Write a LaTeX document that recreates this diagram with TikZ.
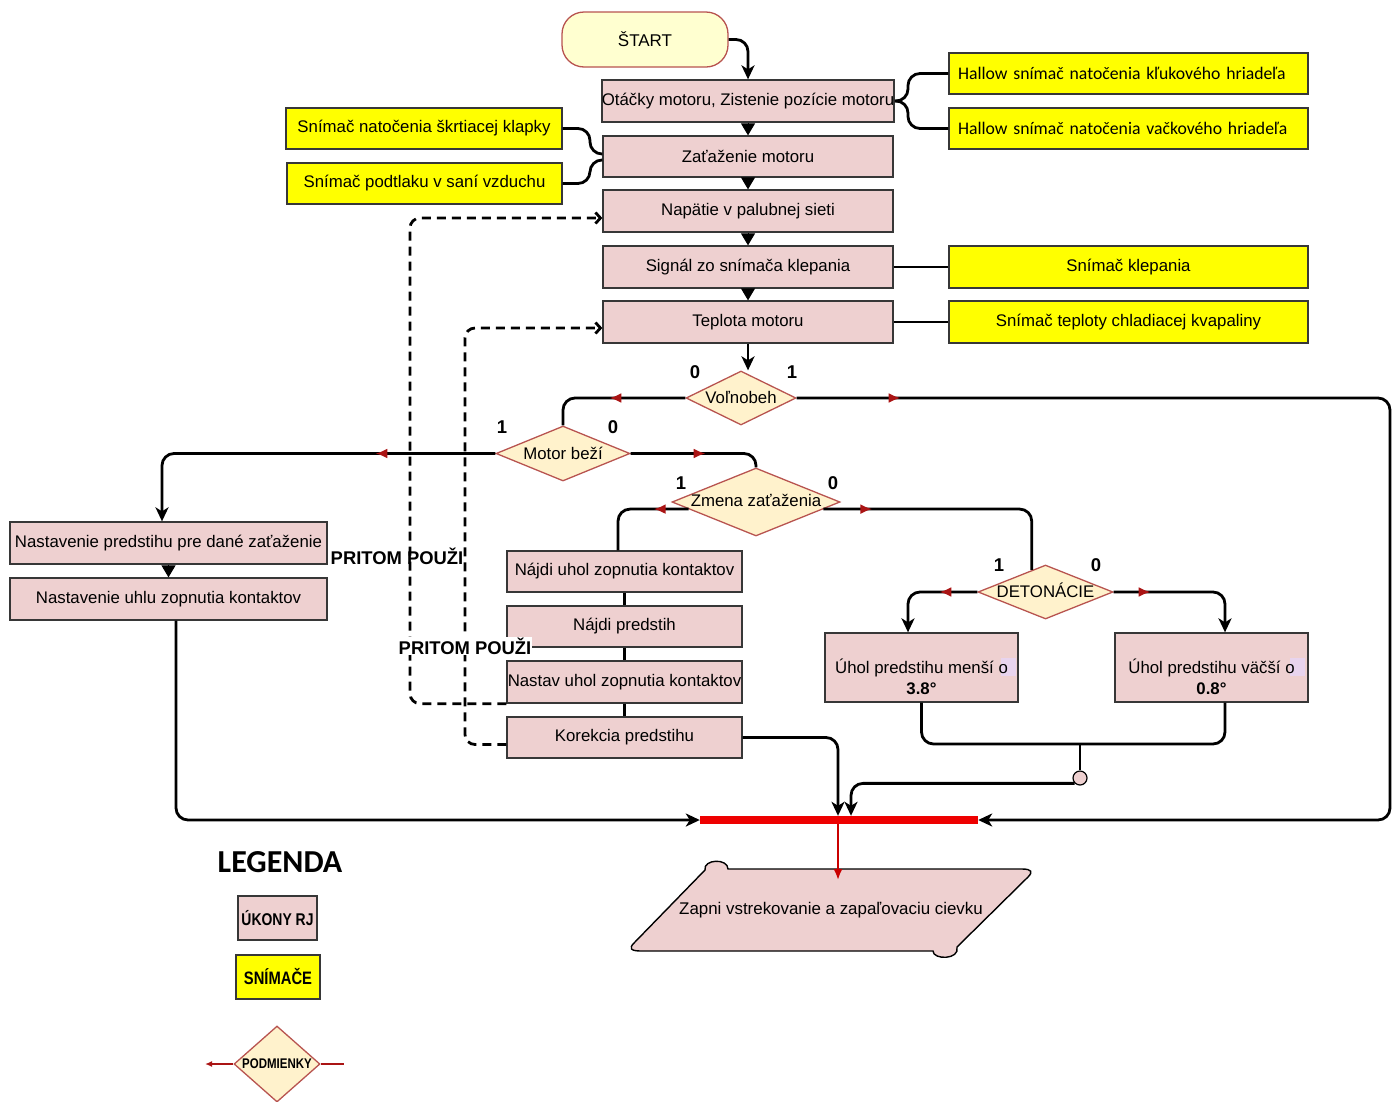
\documentclass[tikz,border=0pt]{standalone}
\usepackage{fontspec}
\setmainfont{Liberation Sans}
\newfontfamily\calfont{Carlito}
\newfontfamily\narrowfont[FakeStretch=0.82]{Liberation Sans}
\usetikzlibrary{arrows.meta,shapes.geometric,decorations.markings}
\newcommand\fsz[2]{\fontsize{#1pt}{#2pt}\selectfont}
\definecolor{pinkc}{RGB}{238,208,208}
\definecolor{bordc}{RGB}{55,55,55}
\definecolor{yelc}{RGB}{255,255,0}
\definecolor{diafill}{RGB}{255,242,204}
\definecolor{diabord}{RGB}{184,84,80}
\definecolor{startfill}{RGB}{255,255,208}
\definecolor{darkredc}{RGB}{170,20,20}
\definecolor{barred}{RGB}{238,0,0}
\definecolor{purc}{RGB}{232,212,238}
\begin{document}
\begin{tikzpicture}[x=1pt,y=-1pt,
  pbox/.style={draw=bordc, line width=1.3pt, fill=pinkc, inner sep=0pt, font=\fsz{16.8}{20}},
  ybox/.style={draw=bordc, line width=1.3pt, fill=yelc, inner sep=0pt, font=\fsz{16.8}{20}},
  dia/.style={diamond, draw=diabord, line width=1.3pt, fill=diafill, inner sep=0pt},
  diatext/.style={font=\fsz{16.8}{20}, inner sep=0pt},
  conn/.style={line width=2.8pt, rounded corners=12pt},
  blk/.style={-{Stealth[length=14pt,width=13pt,inset=4pt]}},
  tri/.style={line width=1pt,-{Triangle[length=12pt,width=14pt]}},
  num/.style={font=\fsz{18.5}{22}\bfseries},
  redmid/.style={postaction={decorate,decoration={markings,mark=at position #1 with {\arrow[darkredc]{Latex[length=12pt,width=10pt]}}}}},
  dsh/.style={line width=2.8pt, dash pattern=on 9pt off 6pt, rounded corners=10pt, -{Straight Barb[length=5pt,width=11pt]}},
  ptext/.style={font=\fsz{18.4}{22}\bfseries}
]
\useasboundingbox (0,0) rectangle (1399,1101);

% ---------- top chain ----------
\node[draw=diabord, fill=startfill, rounded corners=22pt, minimum width=166pt, minimum height=55pt, line width=1.3pt, inner sep=0pt, font=\fsz{17}{20}] (start) at (645,39.5) {ŠTART};
\node[pbox, minimum width=290pt, minimum height=42pt] (otacky) at (748,101) {Otáčky motoru, Zistenie pozície motoru};
\node[pbox, minimum width=290pt, minimum height=41pt] (zataz) at (748,156.5) {Zaťaženie motoru};
\node[pbox, minimum width=290pt, minimum height=42pt] (napatie) at (748,211) {Napätie v palubnej sieti};
\node[pbox, minimum width=290pt, minimum height=42pt] (signal) at (748,267) {Signál zo snímača klepania};
\node[pbox, minimum width=290pt, minimum height=42pt] (teplota) at (748,322) {Teplota motoru};

% ---------- sensors ----------
\node[ybox, minimum width=359pt, minimum height=41pt, text width=341pt, inner xsep=9pt, align=left, font=\calfont\fsz{17.7}{20}] (hall1) at (1128.5,73.5) {Hallow snímač natočenia kľukového hriadeľa};
\node[ybox, minimum width=359pt, minimum height=41pt, text width=341pt, inner xsep=9pt, align=left, font=\calfont\fsz{17.7}{20}] (hall2) at (1128.5,128.5) {Hallow snímač natočenia vačkového hriadeľa};
\node[ybox, minimum width=276pt, minimum height=41pt] (skrt) at (424,128.5) {Snímač natočenia škrtiacej klapky};
\node[ybox, minimum width=275pt, minimum height=41pt] (podtl) at (424.5,183.5) {Snímač podtlaku v saní vzduchu};
\node[ybox, minimum width=359pt, minimum height=42pt] (klep) at (1128.5,267) {Snímač klepania};
\node[ybox, minimum width=359pt, minimum height=42pt] (tepl) at (1128.5,322) {Snímač teploty chladiacej kvapaliny};

% ---------- decisions ----------
\node[dia, minimum width=110pt, minimum height=54pt] (volno) at (741,398) {};
\node[diatext] (volnot) at (741,397) {Voľnobeh};
\node[dia, minimum width=134pt, minimum height=55pt] (motor) at (563,453.5) {};
\node[diatext] (motort) at (563,453) {Motor beží};
\node[dia, minimum width=168pt, minimum height=68pt] (zmena) at (756,502) {};
\node[diatext] (zmenat) at (756,500) {Zmena zaťaženia};
\node[dia, minimum width=135pt, minimum height=54pt] (deton) at (1045.5,592) {};
\node[diatext] (detont) at (1045.5,590) {DETONÁCIE};

\node[num] (n0a) at (695,372) {0};
\node[num] (n1a) at (792,372) {1};
\node[num] (n1b) at (502,427) {1};
\node[num] (n0b) at (613,427) {0};
\node[num] (n1c) at (681,483) {1};
\node[num] (n0c) at (833,483) {0};
\node[num] (n1d) at (999,565) {1};
\node[num] (n0d) at (1096,565) {0};

% ---------- left column ----------
\node[pbox, minimum width=317pt, minimum height=42pt] (npred) at (168.5,543) {Nastavenie predstihu pre dané zaťaženie};
\node[pbox, minimum width=317pt, minimum height=42pt] (nuhol) at (168.5,599) {Nastavenie uhlu zopnutia kontaktov};

% ---------- middle column ----------
\node[pbox, minimum width=235pt, minimum height=41pt] (najuhol) at (624.5,571.5) {Nájdi uhol zopnutia kontaktov};
\node[pbox, minimum width=235pt, minimum height=41pt] (najpred) at (624.5,626.5) {Nájdi predstih};
\node[pbox, minimum width=235pt, minimum height=42pt] (nastav) at (624.5,682) {Nastav uhol zopnutia kontaktov};
\node[pbox, minimum width=235pt, minimum height=41pt] (korek) at (624.5,737.5) {Korekcia predstihu};

% ---------- right boxes ----------
\node[pbox, minimum width=193pt, minimum height=69pt] (mensi) at (921.5,667.5) {};
\fill[purc] (1001,658) rectangle (1016,676);
\node[font=\fsz{16.8}{21}, align=center, inner sep=0pt] (mensit) at (921.5,677) {Úhol predstihu menší o\hspace{20pt}\\\textbf{3.8°}};
\node[pbox, minimum width=193pt, minimum height=69pt] (vacsi) at (1211.5,667.5) {};
\fill[purc] (1290,658) rectangle (1305,676);
\node[font=\fsz{16.8}{21}, align=center, inner sep=0pt] (vacsit) at (1211.5,677) {Úhol predstihu väčší o\hspace{20pt}\\\textbf{0.8°}};

\coordinate (join) at (1080,744);
\node[circle, draw=black, line width=1.2pt, fill=pinkc, minimum size=14pt, inner sep=0pt] (circ) at (1080,778) {};

% ---------- bar and output ----------
\node[fill=barred, minimum width=278pt, minimum height=8pt, inner sep=0pt] (bar) at (839,820) {};
\draw[draw=black, line width=1.4pt, fill=pinkc]
  (705,870) .. controls (703,859) and (728,858) .. (728,869)
  -- (1022,869) .. controls (1032,869) and (1033,872) .. (1028,877)
  -- (957,947) .. controls (960,960) and (933,960) .. (933,951)
  -- (641,951) .. controls (630,951) and (629,948) .. (634,943) -- cycle;
\node[font=\fsz{16.9}{20}, inner sep=0pt] (zapni) at (831,910) {Zapni vstrekovanie a zapaľovaciu cievku};
\coordinate (ztop) at (838,880);

% ---------- connectors ----------
\draw[conn,blk] (start.east) -| (otacky.north);
\draw[tri] (otacky.south) -- (zataz.north);
\draw[tri] (zataz.south) -- (napatie.north);
\draw[tri] (napatie.south) -- (signal.north);
\draw[tri] (signal.south) -- (teplota.north);

\draw[conn] (otacky.east) -- (908,101) |- (hall1.west);
\draw[conn] (otacky.east) -- (908,101) |- (hall2.west);
\draw[conn] (skrt.east) -| (590,154) -- ([yshift=2.5pt]zataz.west);
\draw[conn] (podtl.east) -| (590,160) -- ([yshift=-3.5pt]zataz.west);
\draw[line width=2.4pt] (signal.east) -- (klep.west);
\draw[line width=2.4pt] (teplota.east) -- (tepl.west);

\draw[conn,blk] (teplota.south) -- (teplota.south |- volno.north);
\draw[conn,redmid=76pt] (volno.west) -| (motor.north);
\draw[conn,blk,redmid=104pt] (volno.east) -- (1390,398) |- (bar.east);
\draw[conn,blk,redmid=120pt] (motor.west) -| ([xshift=-6.5pt]npred.north);
\draw[conn,redmid=75pt] (motor.east) -| (zmena.north);
\draw[conn,redmid=35pt] (zmena.186) -| ([xshift=-6.5pt]najuhol.north);
\draw[conn,redmid=49pt] (zmena.354) -| (deton.122);
\draw[conn,blk,redmid=38pt] (deton.west) -| ([xshift=-13.5pt]mensi.north);
\draw[conn,blk,redmid=37pt] (deton.east) -| ([xshift=13.5pt]vacsi.north);
\draw[conn] (mensi.south) |- (join) -| ([xshift=13.5pt]vacsi.south);
\draw[line width=1.2pt] (join) -- (circ.north);
\draw[conn,blk] (circ.225) -| ([xshift=12pt]bar.north);
\draw[conn,blk] (korek.east) -| ([xshift=-1pt]bar.north);
\draw[conn,blk] ([xshift=7.5pt]nuhol.south) |- (bar.west);
\draw[line width=2pt, draw=barred!85!black, -{Latex[length=11pt,width=9pt]}] ([xshift=-1pt]bar.south) -- (ztop);

\draw[tri] (npred.south) -- (nuhol.north);
\draw[line width=2.4pt] (najuhol.south) -- (najpred.north);
\draw[line width=2.4pt] (najpred.south) -- (nastav.north);
\draw[line width=2.4pt] (nastav.south) -- (korek.north);

\draw[dsh] (nastav.south west) -| (410,218) -- ([yshift=-7pt]napatie.west);
\draw[dsh] ([yshift=-7pt]korek.west) -| (465,328) -- ([yshift=-6pt]teplota.west);

\node[ptext] (prit1) at (397,556) {PRITOM POUŽI};
\node[ptext, fill=white, inner sep=1pt] (prit2) at (465,646) {PRITOM POUŽI};

% ---------- legend ----------
\node[font=\calfont\fsz{32}{36}\bfseries] (leg) at (280,862) {LEGENDA};
\node[pbox, minimum width=79pt, minimum height=44pt, font=\narrowfont\bfseries\fsz{17}{20}] (lk) at (277.5,918) {ÚKONY RJ};
\node[ybox, minimum width=84pt, minimum height=44pt, font=\narrowfont\bfseries\fsz{18}{20}] (ls) at (278,977) {SNÍMAČE};
\node[dia, minimum width=86pt, minimum height=76pt] (ld) at (277,1064) {};
\node[font=\narrowfont\bfseries\fsz{14}{16}, inner sep=0pt] (ldt) at (277,1064) {PODMIENKY};
\coordinate (ll) at (205,1064);
\coordinate (lr) at (344,1064);
\draw[line width=1.6pt, draw=darkredc, -{Latex[length=7pt,width=6pt]}] (ld.west) -- (ll);
\draw[line width=1.6pt, draw=darkredc] (ld.east) -- (lr);
\end{tikzpicture}
\end{document}
